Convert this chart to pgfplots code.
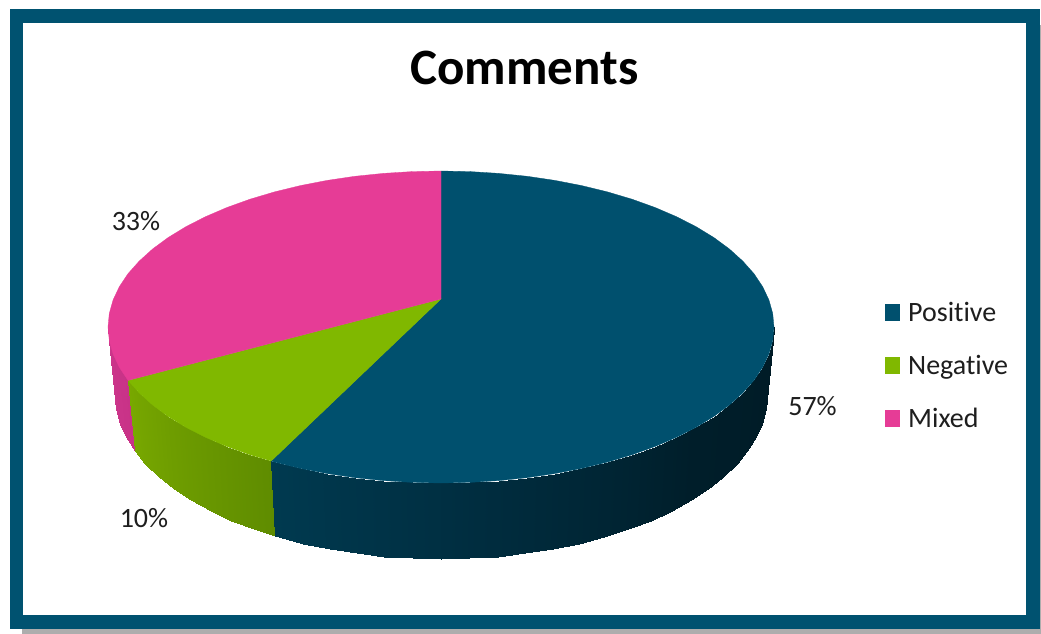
\documentclass[border=0pt]{standalone}
\usepackage{fontspec}
\setmainfont[Ligatures=NoCommon]{Carlito}
\usepackage{pgfplots}
\pgfplotsset{compat=1.18}
\definecolor{posblue}{RGB}{0,80,110}
\definecolor{negreen}{RGB}{128,184,0}
\definecolor{mixpink}{RGB}{230,60,150}
\definecolor{frameblue}{RGB}{0,82,112}
\definecolor{labeltxt}{RGB}{30,30,30}
\pgfplotsset{
  colormap={bluewall}{rgb255=(0,58,80) rgb255=(0,44,62) rgb255=(0,30,42) rgb255=(0,27,38)},
  colormap={greenwall}{rgb255=(120,168,0) rgb255=(95,140,0)},
  colormap={pinkwall}{rgb255=(205,55,140) rgb255=(200,50,135)},
}
\begin{document}
\begin{tikzpicture}
\begin{axis}[
    width=1041pt, height=634pt, scale only axis,
    xmin=0, xmax=1041, ymin=0, ymax=634,
    y dir=reverse,
    hide axis,
    point meta min=0, point meta max=1,
    legend image code/.code={\fill[#1] (0pt,-7.5pt) rectangle (14pt,8.5pt); \path[draw=none,fill=none] (0pt,0pt) -- (21pt,0pt);},
    legend style={draw=none, fill=none, at={(axis cs:885,300)}, anchor=north west,
      font=\fontsize{28}{30}\selectfont, text=labeltxt, row sep=28.5pt,
      inner sep=0pt, outer sep=0pt},
    legend cell align=left,
]
% keep the whole page, white margin included
\path (axis cs:0,0) rectangle (axis cs:1041,634);
% frame and shadow
\fill[black!32] (axis cs:22,25) rectangle (axis cs:1041,634);
\fill[frameblue] (axis cs:9.5,9.5) rectangle (axis cs:1040,629);
\fill[white] (axis cs:22.5,23) rectangle (axis cs:1026,615);

% side walls: top rim and bottom rim, one pair per step
\addplot[patch, mesh input=lattice, mesh/cols=2, shader=interp, colormap name=pinkwall, point meta=explicit, forget plot]
  table[meta=c] {
x y c
108 327 0
115 395 0
109.3 340.6 .25
116.2 409.3 .25
113.1 354.1 .5
120 423.5 .5
119.4 367.4 .75
126.1 437.4 .75
128.1 380.4 1
134.7 451.1 1
};
\addplot[patch, mesh input=lattice, mesh/cols=2, shader=interp, colormap name=greenwall, point meta=explicit, forget plot]
  table[meta=c] {
x y c
128.1 380.4 0
134.7 451.1 0
139.2 392.9 .13
145.5 464.3 .13
152.6 405 .25
158.7 477 .25
168.2 416.5 .38
173.9 489.1 .38
185.9 427.3 .5
191.3 500.4 .5
205.5 437.3 .63
210.5 511 .63
226.9 446.5 .75
231.4 520.6 .75
250 454.8 .88
254 529.3 .88
271.2 461 1
274.6 536 1
};
\addplot[patch, mesh input=lattice, mesh/cols=2, shader=interp, colormap name=bluewall, point meta=explicit, forget plot]
  table[meta=c] {
x y c
271.2 461 0
274.6 536 0
300.3 468.4 .05
303.2 543.6 .05
327.1 473.6 .09
329.5 549.1 .09
354.8 477.7 .13
356.6 553.4 .13
383.2 480.6 .17
384.4 556.5 .17
412 482.4 .21
412.6 558.4 .21
441 483 .25
441 559 .25
470 482.4 .30
469.4 558.4 .30
498.8 480.6 .34
497.6 556.5 .34
527.2 477.7 .38
525.4 553.4 .38
554.9 473.6 .42
552.5 549.1 .42
581.7 468.4 .46
578.8 543.6 .46
607.5 462.1 .50
604 537 .50
632 454.8 .54
628 529.3 .54
655.1 446.5 .59
650.6 520.6 .59
676.5 437.3 .63
671.5 511 .63
696.1 427.3 .67
690.7 500.4 .67
713.8 416.5 .71
708.1 489.1 .71
729.4 405 .75
723.3 477 .75
742.8 392.9 .79
736.5 464.3 .79
753.9 380.4 .83
747.3 451.1 .83
762.6 367.4 .88
755.9 437.4 .88
768.9 354.1 .92
762 423.5 .92
772.7 340.6 .96
765.8 409.3 .96
774 327 1
767 395 1
};

% top faces
\addplot[fill=posblue, draw=posblue, line width=0.3pt] coordinates {
(441,299) (441,171) (470,171.6) (498.8,173.4) (527.2,176.3) (554.9,180.4) (581.7,185.6)
(607.5,191.9) (632,199.2) (655.1,207.5) (676.5,216.7) (696.1,226.7) (713.8,237.5)
(729.4,249) (742.8,261.1) (753.9,273.6) (762.6,286.6) (768.9,299.9) (772.7,313.4)
(774,327) (772.7,340.6) (768.9,354.1) (762.6,367.4) (753.9,380.4) (742.8,392.9)
(729.4,405) (713.8,416.5) (696.1,427.3) (676.5,437.3) (655.1,446.5) (632,454.8)
(607.5,462.1) (581.7,468.4) (554.9,473.6) (527.2,477.7) (498.8,480.6) (470,482.4)
(441,483) (412,482.4) (383.2,480.6) (354.8,477.7) (327.1,473.6) (300.3,468.4)
(274.5,462.1) (271.2,461)
} --cycle;
\addlegendentry{Positive}
\addplot[fill=negreen, draw=negreen, line width=0.3pt] coordinates {
(441,299) (271.2,461) (250,454.8) (226.9,446.5) (205.5,437.3) (185.9,427.3)
(168.2,416.5) (152.6,405) (139.2,392.9) (128.1,380.4)
} --cycle;
\addlegendentry{Negative}
\addplot[fill=mixpink, draw=mixpink, line width=0.3pt] coordinates {
(441,299) (128.1,380.4) (119.4,367.4) (113.1,354.1) (109.3,340.6) (108,327)
(109.3,313.4) (113.1,299.9) (119.4,286.6) (128.1,273.6) (139.2,261.1) (152.6,249)
(168.2,237.5) (185.9,226.7) (205.5,216.7) (226.9,207.5) (250,199.2) (274.5,191.9)
(300.3,185.6) (327.1,180.4) (354.8,176.3) (383.2,173.4) (412,171.6) (441,171)
} --cycle;
\addlegendentry{Mixed}

\node[font=\fontsize{51}{54}\bfseries\selectfont] at (axis cs:524.5,67.5) {Comments};
\node[font=\fontsize{28}{30}\selectfont, text=labeltxt] at (axis cs:136,221) {33\%};
\node[font=\fontsize{28}{30}\selectfont, text=labeltxt] at (axis cs:812.5,406) {57\%};
\node[font=\fontsize{28}{30}\selectfont, text=labeltxt] at (axis cs:144,518) {10\%};
\end{axis}
\end{tikzpicture}
\end{document}
